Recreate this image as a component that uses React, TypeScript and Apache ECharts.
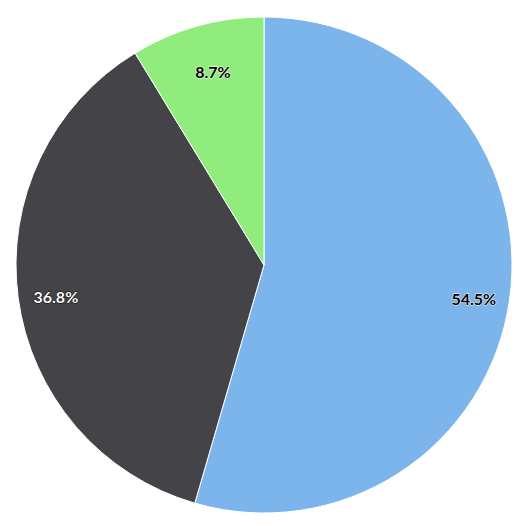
import React, { useEffect, useRef } from "react";
import * as echarts from "echarts";

const categories = ["A", "B", "C"];
const values = [54.5, 36.8, 8.7];
const colors = ["#7cb5ec", "#434348", "#90ed7d"];
const labelColors = ["#000000", "#ffffff", "#000000"];
const labelBorders = ["#ffffff", "#000000", "#ffffff"];
const labelShift = [
  [-3, 3],
  [5, 3],
  [7, 14],
];

export default function App() {
  const ref = useRef<HTMLDivElement>(null);
  useEffect(() => {
    document.body.style.margin = "0";
    const chart = echarts.init(ref.current!, undefined, { renderer: "svg" });
    const data = categories.map((c, i) => ({
      name: c,
      value: values[i],
      itemStyle: { color: colors[i] },
    }));
    const labelData = categories.map((c, i) => ({
      name: c,
      value: values[i],
      itemStyle: { color: "rgba(0,0,0,0)" },
      label: {
        color: labelColors[i],
        textBorderColor: labelBorders[i],
      },
    }));
    chart.setOption({
      animation: false,
      series: [
        {
          type: "pie",
          center: [264, 265],
          radius: [0, 248],
          startAngle: 90,
          clockwise: true,
          data,
          label: { show: false },
          labelLine: { show: false },
          itemStyle: { borderColor: "#ffffff", borderWidth: 1 },
          emphasis: { disabled: true },
        },
        {
          type: "pie",
          center: [264, 265],
          radius: [176, 248],
          startAngle: 90,
          clockwise: true,
          data: labelData,
          silent: true,
          label: {
            show: true,
            position: "inside",
            formatter: (p: any) => p.value + "%",
            fontFamily: "Lato, sans-serif",
            fontWeight: "bold",
            fontSize: 16,
            textBorderWidth: 1,
          },
          labelLayout: (p: any) => ({
            dx: labelShift[p.dataIndex][0],
            dy: labelShift[p.dataIndex][1],
          }),
          labelLine: { show: false },
          emphasis: { disabled: true },
        },
      ],
    });
    return () => chart.dispose();
  }, []);
  return <div ref={ref} style={{ width: 519, height: 526 }} />;
}
